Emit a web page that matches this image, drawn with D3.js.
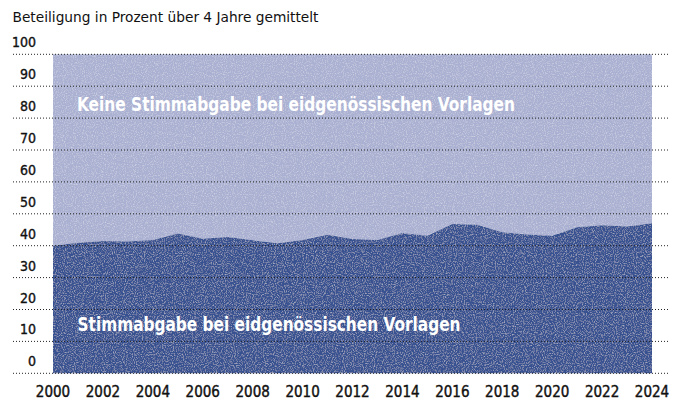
<!DOCTYPE html>
<html>
<head>
<meta charset="utf-8">
<script src="https://cdn.jsdelivr.net/npm/d3@7"></script>
<style>
  body { margin: 0; background: #fff; }
  text { font-family: "Liberation Sans Narrow", "DejaVu Sans Condensed", "Liberation Sans", sans-serif; }
</style>
</head>
<body>
<svg id="chart" width="684" height="401"></svg>
<script>
// Beteiligung an eidgenössischen Vorlagen, Mittel über 4 Jahre
const years = [2000, 2001, 2002, 2003, 2004, 2005, 2006, 2007, 2008, 2009, 2010, 2011, 2012,
  2013, 2014, 2015, 2016, 2017, 2018, 2019, 2020, 2021, 2022, 2023, 2024];
const turnout = [40.0, 40.9, 41.5, 41.3, 41.8, 43.8, 42.2, 42.7, 41.7, 40.8, 41.8, 43.4, 42.1,
  41.8, 44.0, 43.1, 46.8, 46.6, 44.2, 43.5, 43.1, 45.8, 46.4, 46.0, 47.0];
const yTicks = [0, 10, 20, 30, 40, 50, 60, 70, 80, 90, 100];
const xTicks = [2000, 2002, 2004, 2006, 2008, 2010, 2012, 2014, 2016, 2018, 2020, 2022, 2024];

const data = years.map((y, i) => ({ year: y, value: turnout[i] }));

const svg = d3.select('#chart');

const x = d3.scaleLinear().domain([2000, 2024]).range([53, 652]);
const y = d3.scaleLinear().domain([0, 100]).range([373.3, 54.3]);

// light grain texture like the printed original
const defs = svg.append('defs');
const f = defs.append('filter').attr('id', 'grain')
  .attr('x', 0).attr('y', 0).attr('width', 1).attr('height', 1);
f.append('feTurbulence').attr('type', 'fractalNoise').attr('baseFrequency', 0.9)
  .attr('numOctaves', 2).attr('seed', 3).attr('result', 'noise');
f.append('feColorMatrix').attr('in', 'noise').attr('type', 'matrix')
  .attr('values', '0 0 0 0 1  0 0 0 0 1  0 0 0 0 1  0.9 0 0 0 -0.42')
  .attr('result', 'spots');
f.append('feComposite').attr('in', 'spots').attr('in2', 'SourceGraphic')
  .attr('operator', 'in').attr('result', 'spotsIn');
const m = f.append('feMerge');
m.append('feMergeNode').attr('in', 'SourceGraphic');
m.append('feMergeNode').attr('in', 'spotsIn');

// no vote (above the line)
const upper = d3.area()
  .x(d => x(d.year))
  .y0(y(100))
  .y1(d => y(d.value));

// vote (below the line)
const lower = d3.area()
  .x(d => x(d.year))
  .y0(y(0))
  .y1(d => y(d.value));

svg.append('path')
  .datum(data)
  .attr('d', upper)
  .attr('fill', '#aab0d1')
  .attr('filter', 'url(#grain)');

svg.append('path')
  .datum(data)
  .attr('d', lower)
  .attr('fill', '#385190')
  .attr('filter', 'url(#grain)');

// dotted grid lines
svg.append('g')
  .selectAll('line')
  .data(yTicks)
  .enter()
  .append('line')
  .attr('x1', 13)
  .attr('x2', 668)
  .attr('y1', d => y(d))
  .attr('y2', d => y(d))
  .attr('stroke', '#222')
  .attr('stroke-width', 1)
  .attr('stroke-dasharray', '1,2');

// y labels sit above their grid line
svg.append('g')
  .selectAll('text')
  .data(yTicks)
  .enter()
  .append('text')
  .attr('x', 36)
  .attr('y', d => y(d) - 7)
  .attr('text-anchor', 'end')
  .style('font-size', '14px')
  .attr('fill', '#111')
  .attr('stroke', '#111')
  .attr('stroke-width', 0.35)
  .text(d => d);

// x labels
svg.append('g')
  .selectAll('text')
  .data(xTicks)
  .enter()
  .append('text')
  .attr('x', d => x(d))
  .attr('y', 397)
  .attr('text-anchor', 'middle')
  .style('font-size', '15px')
  .attr('fill', '#111')
  .attr('stroke', '#111')
  .attr('stroke-width', 0.4)
  .text(d => d);

svg.append('text')
  .attr('x', 12.5)
  .attr('y', 21.5)
  .attr('textLength', 306)
  .attr('lengthAdjust', 'spacingAndGlyphs')
  .style('font-size', '14.5px')
  .attr('fill', '#111')
  .text('Beteiligung in Prozent über 4 Jahre gemittelt');

svg.append('text')
  .attr('x', 77)
  .attr('y', 111)
  .attr('textLength', 438)
  .attr('lengthAdjust', 'spacingAndGlyphs')
  .style('font-size', '20px')
  .style('font-weight', 'bold')
  .attr('fill', '#fff')
  .text('Keine Stimmabgabe bei eidgenössischen Vorlagen');

svg.append('text')
  .attr('x', 77.5)
  .attr('y', 331)
  .attr('textLength', 383)
  .attr('lengthAdjust', 'spacingAndGlyphs')
  .style('font-size', '20px')
  .style('font-weight', 'bold')
  .attr('fill', '#fff')
  .text('Stimmabgabe bei eidgenössischen Vorlagen');
</script>
</body>
</html>
